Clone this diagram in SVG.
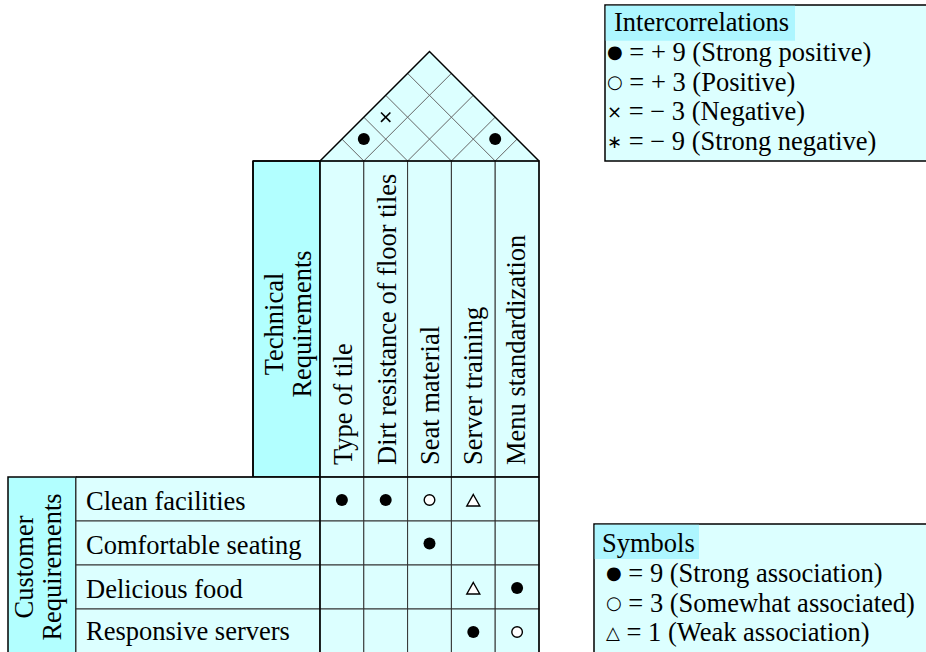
<svg xmlns="http://www.w3.org/2000/svg" width="926" height="652" viewBox="0 0 926 652">
  <style>
    text { font-family: "Liberation Serif", "Times New Roman", serif; font-size: 26.5px; fill: #000; }
    .pale { fill: #DCFFFF; }
    .deep { fill: #B2FFFF; }
    .hl { fill: #ADF6FF; }
    .edge { stroke: #000; stroke-width: 1.5; fill: none; }
    .cell { fill: #DCFFFF; stroke: #333; stroke-width: 1; }
    .roofgrid line { stroke: #666; stroke-width: 1; }
    .full { fill: #000; }
    .hollow { fill: #fff; stroke: #000; stroke-width: 1.4; }
    .cross { stroke: #000; stroke-width: 1.6; }
    .sym { font-family: "DejaVu Sans", sans-serif; font-size: 18px; }
  </style>

  <defs>
    <circle id="strong" r="6" class="full"/>
    <circle id="some" r="5.3" class="hollow"/>
    <polygon id="weak" points="0,-6 6.5,5.5 -6.5,5.5" class="hollow"/>
  </defs>

  <!-- correlation roof -->
  <g id="roof">
    <polygon points="320,161 429.5,51.5 539,161" class="pale"/>
    <g class="roofgrid">
      <line x1="363.8" y1="161" x2="451.4" y2="73.4"/>
      <line x1="363.8" y1="161" x2="341.9" y2="139.1"/>
      <line x1="407.6" y1="161" x2="473.3" y2="95.3"/>
      <line x1="407.6" y1="161" x2="363.8" y2="117.2"/>
      <line x1="451.4" y1="161" x2="495.2" y2="117.2"/>
      <line x1="451.4" y1="161" x2="385.7" y2="95.3"/>
      <line x1="495.2" y1="161" x2="517.1" y2="139.1"/>
      <line x1="495.2" y1="161" x2="407.6" y2="73.4"/>
    </g>
    <polyline points="320,161 429.5,51.5 539,161" class="edge"/>
    <use href="#strong" x="363.8" y="139.1"/>
    <g class="cross">
      <line x1="381" y1="112.5" x2="390.4" y2="121.9"/>
      <line x1="390.4" y1="112.5" x2="381" y2="121.9"/>
    </g>
    <use href="#strong" x="495.2" y="139.1"/>
  </g>

  <!-- technical requirement headers -->
  <g id="tech-title">
    <rect x="253" y="161" width="67" height="316" class="deep" stroke="#000" stroke-width="1.5"/>
    <text transform="translate(283,324) rotate(-90)" text-anchor="middle">Technical</text>
    <text transform="translate(311,324) rotate(-90)" text-anchor="middle">Requirements</text>
  </g>
  <g id="col-type-of-tile">
    <rect x="320" y="161" width="43.8" height="316" class="cell"/>
    <text transform="translate(352,465) rotate(-90)">Type of tile</text>
  </g>
  <g id="col-dirt-resistance">
    <rect x="363.8" y="161" width="43.8" height="316" class="cell"/>
    <text transform="translate(395.5,465) rotate(-90)">Dirt resistance of floor tiles</text>
  </g>
  <g id="col-seat-material">
    <rect x="407.6" y="161" width="43.8" height="316" class="cell"/>
    <text transform="translate(438.5,465) rotate(-90)">Seat material</text>
  </g>
  <g id="col-server-training">
    <rect x="451.4" y="161" width="43.8" height="316" class="cell"/>
    <text transform="translate(481.5,465) rotate(-90)">Server training</text>
  </g>
  <g id="col-menu-standardization">
    <rect x="495.2" y="161" width="43.8" height="316" class="cell"/>
    <text transform="translate(524.5,465) rotate(-90)">Menu standardization</text>
  </g>

  <!-- customer requirements -->
  <g id="cust-title">
    <rect x="8" y="477" width="68" height="176" class="deep" stroke="#000" stroke-width="1.5"/>
    <text transform="translate(33,567) rotate(-90)" text-anchor="middle">Customer</text>
    <text transform="translate(61,567) rotate(-90)" text-anchor="middle">Requirements</text>
  </g>

  <g id="row-clean-facilities">
    <rect x="76" y="477" width="244" height="44" class="cell"/>
    <rect x="320" y="477" width="43.8" height="44" class="cell"/>
    <rect x="363.8" y="477" width="43.8" height="44" class="cell"/>
    <rect x="407.6" y="477" width="43.8" height="44" class="cell"/>
    <rect x="451.4" y="477" width="43.8" height="44" class="cell"/>
    <rect x="495.2" y="477" width="43.8" height="44" class="cell"/>
    <text x="86" y="510">Clean facilities</text>
    <use href="#strong" x="341.9" y="500"/>
    <use href="#strong" x="385.7" y="500"/>
    <use href="#some" x="429.5" y="500"/>
    <use href="#weak" x="473.3" y="500.5"/>
  </g>
  <g id="row-comfortable-seating">
    <rect x="76" y="521" width="244" height="44" class="cell"/>
    <rect x="320" y="521" width="43.8" height="44" class="cell"/>
    <rect x="363.8" y="521" width="43.8" height="44" class="cell"/>
    <rect x="407.6" y="521" width="43.8" height="44" class="cell"/>
    <rect x="451.4" y="521" width="43.8" height="44" class="cell"/>
    <rect x="495.2" y="521" width="43.8" height="44" class="cell"/>
    <text x="86" y="554">Comfortable seating</text>
    <use href="#strong" x="429.5" y="543.5"/>
  </g>
  <g id="row-delicious-food">
    <rect x="76" y="565" width="244" height="44" class="cell"/>
    <rect x="320" y="565" width="43.8" height="44" class="cell"/>
    <rect x="363.8" y="565" width="43.8" height="44" class="cell"/>
    <rect x="407.6" y="565" width="43.8" height="44" class="cell"/>
    <rect x="451.4" y="565" width="43.8" height="44" class="cell"/>
    <rect x="495.2" y="565" width="43.8" height="44" class="cell"/>
    <text x="86" y="598">Delicious food</text>
    <use href="#weak" x="473.3" y="588.5"/>
    <use href="#strong" x="517.1" y="588"/>
  </g>
  <g id="row-responsive-servers">
    <rect x="76" y="609" width="244" height="44" class="cell"/>
    <rect x="320" y="609" width="43.8" height="44" class="cell"/>
    <rect x="363.8" y="609" width="43.8" height="44" class="cell"/>
    <rect x="407.6" y="609" width="43.8" height="44" class="cell"/>
    <rect x="451.4" y="609" width="43.8" height="44" class="cell"/>
    <rect x="495.2" y="609" width="43.8" height="44" class="cell"/>
    <text x="86" y="640">Responsive servers</text>
    <use href="#strong" x="473.3" y="632"/>
    <use href="#some" x="517.1" y="632"/>
  </g>

  <!-- outer frame of the matrix -->
  <g id="frames">
    <path d="M253,161 H539 V653 M320,161 V653 M76,477 H539 M253,161 V477" class="edge"/>
  </g>

  <!-- legends -->
  <g id="legend-intercorrelations">
    <rect x="605" y="5" width="340" height="156" class="pale" stroke="#000" stroke-width="1.5"/>
    <rect x="605.75" y="5.75" width="189.25" height="35" class="hl"/>
    <text x="614" y="31">Intercorrelations</text>
    <text x="607" y="61"><tspan class="sym" dy="-3">●</tspan><tspan dy="3"> = + 9 (Strong positive)</tspan></text>
    <text x="607" y="90.5"><tspan class="sym" dy="-3">○</tspan><tspan dy="3"> = + 3 (Positive)</tspan></text>
    <text x="607" y="120"><tspan class="sym" dy="-2">×</tspan><tspan dy="2"> = − 3 (Negative)</tspan></text>
    <text x="607" y="149.5"><tspan class="sym" dy="-2">∗</tspan><tspan dy="2"> = − 9 (Strong negative)</tspan></text>
  </g>
  <g id="legend-symbols">
    <rect x="594" y="524" width="340" height="140" class="pale" stroke="#000" stroke-width="1.5"/>
    <rect x="594.75" y="524.75" width="104.25" height="34.25" class="hl"/>
    <text x="602" y="551.5">Symbols</text>
    <text x="606" y="582"><tspan class="sym" dy="-3">●</tspan><tspan dy="3"> = 9 (Strong association)</tspan></text>
    <text x="606" y="611.5"><tspan class="sym" dy="-3">○</tspan><tspan dy="3"> = 3 (Somewhat associated)</tspan></text>
    <text x="606" y="640.5"><tspan class="sym" dy="-2">△</tspan><tspan dy="2"> = 1 (Weak association)</tspan></text>
  </g>
</svg>
